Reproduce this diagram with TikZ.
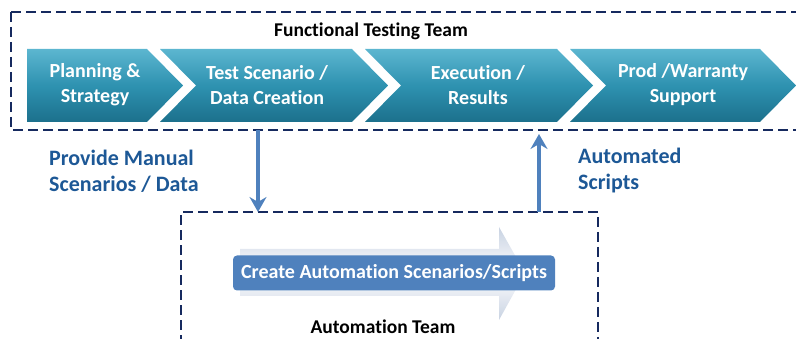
\documentclass[tikz,border=0pt]{standalone}
\usepackage{fontspec}
\setmainfont{Carlito}[Ligatures=NoCommon]
\usetikzlibrary{arrows.meta}
\definecolor{navy}{RGB}{22,42,95}
\definecolor{tealtop}{RGB}{92,182,208}
\definecolor{tealmid}{RGB}{46,146,176}
\definecolor{tealbot}{RGB}{28,112,140}
\definecolor{steel}{RGB}{79,129,189}
\definecolor{labelblue}{RGB}{29,88,150}
\definecolor{ghost}{RGB}{200,210,226}
\begin{document}
\begin{tikzpicture}[x=1pt,y=-1pt,
  teamframe/.style={draw=navy,line width=2pt,dash pattern=on 10pt off 5pt},
  chev/.style={top color=tealtop,bottom color=tealbot,middle color=tealmid,draw=none},
  chevtext/.style={text=white,align=center,font=\bfseries\fontsize{20}{25}\selectfont,inner sep=0pt},
  teamlabel/.style={text=black,font=\bfseries\fontsize{19.5}{22}\selectfont,inner sep=0pt},
  sidelabel/.style={text=labelblue,align=left,font=\bfseries\fontsize{22}{26}\selectfont,inner sep=0pt,anchor=west},
  flow/.style={draw=steel,line width=3.5pt,-{Stealth[length=15pt,width=17pt,inset=5pt]}},
  taskbox/.style={fill=steel,rounded corners=4pt,text=white,font=\bfseries\fontsize{20}{22}\selectfont,minimum width=322pt,minimum height=35pt,inner sep=0pt}
]
\useasboundingbox (0,0) rectangle (796,339);
\clip (0,0) rectangle (796,339);
% functional team frame
\draw[teamframe] (11,12) -- (810,12) (11,12) -- (11,130) -- (810,130);
\node[teamlabel] (ftt) at (371,31) {Functional Testing Team};
% chevrons
\shade[chev] (27,49) -- (147,49) -- (183,85.5) -- (147,122) -- (27,122) -- cycle;
\shade[chev] (160,49) -- (352,49) -- (388,85.5) -- (352,122) -- (160,122) -- (196,85.5) -- cycle;
\shade[chev] (365,49) -- (557,49) -- (593,85.5) -- (557,122) -- (365,122) -- (401,85.5) -- cycle;
\shade[chev] (570,49) -- (760,49) -- (796,85.5) -- (760,122) -- (570,122) -- (606,85.5) -- cycle;
\node[chevtext] (c1) at (95,85) {Planning \&\\Strategy};
\node[chevtext] (c2) at (267,85) {Test Scenario /\\Data Creation};
\node[chevtext] (c3) at (478,85) {Execution /\\Results};
\node[chevtext] (c4) at (683,85) {Prod /Warranty\\Support};
% automation team frame
\draw[teamframe] (181,345) -- (181,212) -- (598,212) -- (598,345);
% ghost arrow
\path[top color=ghost,bottom color=ghost,middle color=white]
  (240,249) -- (499,249) -- (499,227) -- (525,273) -- (499,320) -- (499,296) -- (240,296) -- cycle;
\node[taskbox] (task) at (394,273) {Create Automation Scenarios/Scripts};
\node[teamlabel] (att) at (383,327) {Automation Team};
% connectors
\coordinate (dnA) at (258,130);
\coordinate (dnB) at (258,212);
\coordinate (upA) at (539,212);
\coordinate (upB) at (539,134);
\draw[flow] (dnA) -- (dnB);
\draw[flow] (upA) -- (upB);
\node[sidelabel] (prov) at (49,171) {Provide Manual\\Scenarios / Data};
\node[sidelabel] (auto) at (578,171) {Automated\\Scripts};
\end{tikzpicture}
\end{document}
